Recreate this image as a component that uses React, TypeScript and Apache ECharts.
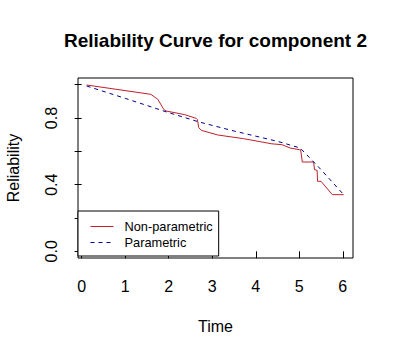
import React, { useEffect, useRef } from "react";
import * as echarts from "echarts";

const titleText = "Reliability Curve for component 2";
const xName = "Time";
const yName = "Reliability";
const seriesNames = ["Non-parametric", "Parametric"];

const xTicks = [0, 1, 2, 3, 4, 5, 6];
const yTicks = [0, 0.2, 0.4, 0.6, 0.8, 1.0];
const yLabels = [0, 0.4, 0.8];

const npTime = [0.115, 1.59, 1.75, 1.885, 1.94, 2.37, 2.63, 2.66, 2.69, 2.75, 3.13, 3.72, 4.37, 4.6, 4.79, 5.0, 5.03, 5.07, 5.33, 5.35, 5.41, 5.42, 5.5, 5.76, 6.02];
const npRel = [0.998, 0.942, 0.912, 0.852, 0.842, 0.82, 0.798, 0.79, 0.742, 0.726, 0.698, 0.676, 0.645, 0.64, 0.62, 0.61, 0.61, 0.536, 0.536, 0.49, 0.486, 0.42, 0.42, 0.34, 0.34];

const pTime = [0.115, 1.0, 2.0, 2.7, 3.5, 4.5, 5.02, 5.5, 6.02];
const pRel = [0.992, 0.918, 0.832, 0.776, 0.722, 0.66, 0.62, 0.49, 0.34];

const FONT = "Arial, 'Liberation Sans', sans-serif";

export default function App() {
  const ref = useRef<HTMLDivElement>(null);
  useEffect(() => {
    if (!ref.current) return;
    const chart = echarts.init(ref.current, null, { renderer: "svg" });
    chart.setOption({
      animation: false,
      backgroundColor: "#ffffff",
      title: {
        text: titleText,
        left: 215.5,
        textAlign: "center",
        top: 31,
        padding: 0,
        textStyle: { fontFamily: FONT, fontSize: 19, fontWeight: "bold", color: "#000" },
      },
      legend: {
        orient: "vertical",
        left: 78,
        top: 211,
        padding: [9, 6, 7, 12],
        itemGap: 3,
        itemWidth: 23,
        itemHeight: 14,
        borderColor: "#000",
        borderWidth: 1,
        borderRadius: 0,
        backgroundColor: "#fff",
        itemStyle: { opacity: 0 },
        lineStyle: { width: 1 },
        textStyle: { fontFamily: FONT, fontSize: 12.8, color: "#000", padding: [0, 0, 0, 6] },
        data: seriesNames,
      },
      grid: {
        left: 78,
        top: 78,
        right: 41,
        bottom: 98,
        show: true,
        borderColor: "#000",
        borderWidth: 1,
        containLabel: false,
        outerBoundsMode: "none",
      },
      xAxis: {
        type: "value",
        min: -0.084,
        max: 6.234,
        interval: 0.002,
        name: xName,
        nameLocation: "middle",
        nameGap: 60,
        nameTextStyle: { fontFamily: FONT, fontSize: 16, color: "#000" },
        axisLine: { show: false },
        splitLine: { show: false },
        axisTick: { show: true, length: 7, customValues: xTicks, lineStyle: { color: "#000" } },
        axisLabel: {
          customValues: xTicks,
          margin: 20,
          fontFamily: FONT,
          fontSize: 16,
          color: "#000",
          formatter: (v: number) => String(v),
        },
      },
      yAxis: {
        type: "value",
        min: -0.04,
        max: 1.04,
        interval: 0.04,
        name: yName,
        nameLocation: "middle",
        nameGap: 57,
        nameTextStyle: { fontFamily: FONT, fontSize: 16, color: "#000" },
        axisLine: { show: false },
        splitLine: { show: false },
        axisTick: { show: true, length: 7, customValues: yTicks, lineStyle: { color: "#000" } },
        axisLabel: {
          customValues: yLabels,
          rotate: 90,
          margin: 19,
          fontFamily: FONT,
          fontSize: 16,
          color: "#000",
          formatter: (v: number) => v.toFixed(1),
        },
      },
      series: [
        {
          name: seriesNames[0],
          type: "line",
          symbol: "none",
          data: npTime.map((t, i) => [t, npRel[i]]),
          lineStyle: { color: "#C0202A", width: 1 },
          itemStyle: { color: "#C0202A" },
        },
        {
          name: seriesNames[1],
          type: "line",
          symbol: "none",
          data: pTime.map((t, i) => [t, pRel[i]]),
          lineStyle: { color: "#00008B", width: 1, type: [4, 4] },
          itemStyle: { color: "#00008B" },
        },
      ],
    });
    return () => chart.dispose();
  }, []);
  return (
    <div
      ref={ref}
      style={{ position: "fixed", left: 0, top: 0, width: 394, height: 356, background: "#fff" }}
    />
  );
}
